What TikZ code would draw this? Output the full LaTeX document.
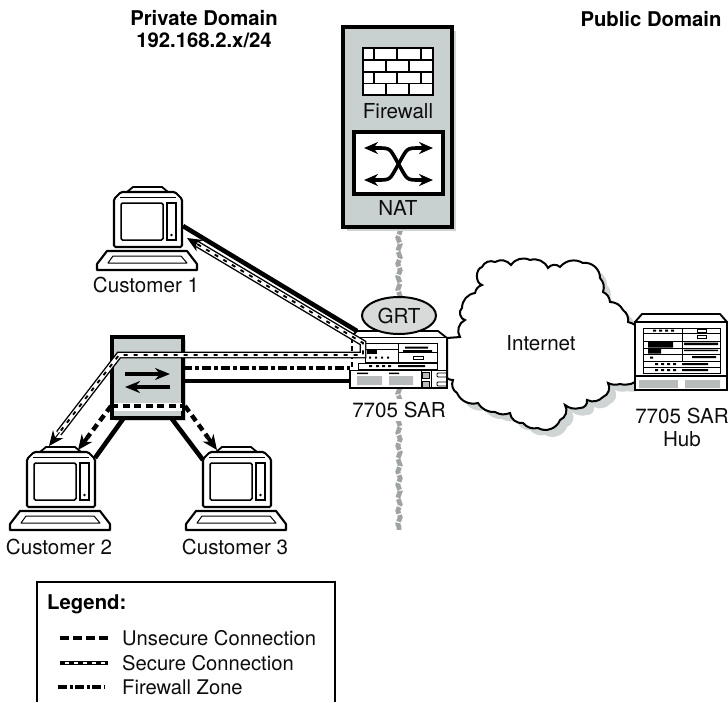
\documentclass[tikz,border=0pt]{standalone}
\usepackage{fontspec}
\setmainfont{TeX Gyre Heros}
\usetikzlibrary{arrows.meta,decorations.pathmorphing,calc,shapes.geometric}
\definecolor{panelgray}{HTML}{C9D0D0}
\definecolor{shadowgray}{HTML}{CFD4D4}
\definecolor{wiregray}{HTML}{A0A3A3}
\definecolor{grtgray}{HTML}{D8D9D9}
\newcommand{\securepath}[2][]{%
  \draw[line width=6.8pt,black,line join=miter,#1] #2;
  \draw[line width=4pt,white,line join=miter] #2;
  \draw[line width=1.9pt,black,dash pattern=on 4pt off 6pt] #2;}
\tikzset{
  lbl/.style={font=\fontsize{20.6}{23}\selectfont,inner sep=0pt,text=black!95},
  leg/.style={font=\fontsize{20.2}{23}\selectfont,inner sep=0pt,text=black!95,anchor=west},
  head/.style={font=\fontsize{20.3}{22}\selectfont\bfseries,inner sep=0pt,align=center},
  thick link/.style={line width=4.6pt,black},
  unsecure/.style={line width=4.4pt,black,dash pattern=on 7pt off 4.5pt},
  zone/.style={line width=4pt,black,dash pattern=on 9pt off 3pt on 4pt off 3pt},
  bighead/.style={-{Stealth[length=15pt,width=13pt]}},
  computer/.pic={
    % origin: centre of case top, at the top of the stand
    \draw[line width=1.8pt,fill=white] (-21,5) -- (-15,0) -- (14,0) -- (20,5) -- cycle;
    \draw[line width=2.1pt,fill=white,rounded corners=1.5pt]
      (-34,12) -- (-27,5) -- (27,5) -- (34,12) -- (34,60) -- (-34,60) -- cycle;
    \draw[line width=1pt] (-28,10) -- (28,10);
    \draw[line width=1.5pt,rounded corners=1.5pt] (-27,16) rectangle (15,53);
    \draw[line width=1.5pt] (19,16) rectangle (28,53);
    \fill (23.5,48) circle (1.4);
    \draw[line width=2.1pt,fill=white,line join=round]
      (-41,64) -- (39,64) -- (49,77) -- (49,83) -- (-51,83) -- (-51,77) -- cycle;
    \draw[line width=1pt,line join=round] (-35,69) -- (33,69) -- (39,76) -- (-40,76) -- cycle;
  }
}
\begin{document}
\begin{tikzpicture}[x=1pt,y=-1pt]
\useasboundingbox (0,0) rectangle (728,702);

% Titles
\node[head] (tpriv) at (204,29) {Private Domain\\192.168.2.x/24};
\node[head] (tpub) at (651,19) {Public Domain};

% Wire of the domain border
\coordinate (wireA) at (399,228);
\coordinate (wireB) at (399,530);
\draw[line width=4.8pt,wiregray,dash pattern=on 7pt off 1.5pt,
  decorate,decoration={zigzag,segment length=13pt,amplitude=1.2pt}] (wireA) -- (wireB);

% Firewall / NAT box
\fill[shadowgray] (347,31) rectangle (456,231);
\node[draw,line width=3.2pt,fill=panelgray,minimum width=109pt,minimum height=200pt,inner sep=0pt] (fwbox) at (397.5,127) {};
\draw[line width=2.8pt,fill=white] (363,48) rectangle (433,95);
\draw[line width=1.3pt]
  (363,60) -- (433,60) (363,72) -- (433,72) (363,83.5) -- (433,83.5)
  (374,48) -- (374,60) (397,48) -- (397,60) (421,48) -- (421,60)
  (386,60) -- (386,72) (409,60) -- (409,72)
  (374,72) -- (374,83.5) (397,72) -- (397,83.5) (421,72) -- (421,83.5)
  (386,83.5) -- (386,95) (409,83.5) -- (409,95);
\node[lbl] (lfw) at (398,111) {Firewall};
\node[draw,line width=3.4pt,fill=white,minimum width=89pt,minimum height=62pt,inner sep=0pt] (natbox) at (398.5,163) {};
\coordinate (natA) at (364,148); \coordinate (natB) at (433,180);
\coordinate (natC) at (364,180); \coordinate (natD) at (433,148);
\draw[line width=3.6pt,{Stealth[length=14pt,width=12pt]}-{Stealth[length=14pt,width=12pt]}]
  (natA) -- +(13,0) .. controls +(14,0) and +(-9,-16) .. (398.5,164) .. controls +(9,16) and +(-14,0) .. (420,180) -- (natB);
\draw[line width=3.6pt,{Stealth[length=14pt,width=12pt]}-{Stealth[length=14pt,width=12pt]}]
  (natC) -- +(13,0) .. controls +(14,0) and +(-9,16) .. (398.5,164) .. controls +(9,-16) and +(-14,0) .. (420,148) -- (natD);
\node[lbl] (lnat) at (398,208) {NAT};

% Cloud
\def\cloudpath{(447,338) -- (460,337) to[bend left=50] (465,320) to[bend left=70] (462,308)
  to[bend left=40] (475,293) to[bend left=30] (482,285) to[bend left=75] (482,267)
  to[bend left=45] (495,262) to[bend left=40] (511,265) to[bend left=40] (530,260)
  to[bend left=40] (548,268) to[bend left=50] (560,267) to[bend left=40] (583,263)
  to[bend left=50] (600,278) to[bend left=30] (603,292) to[bend left=30] (610,302)
  to[bend left=30] (623,310) to[bend left=30] (628,322) to[bend left=20] (640,330)
  -- (640,378) to[bend left=30] (620,384) to[bend left=20] (608,383)
  to[bend left=50] (603,397) to[bend left=35] (587,400) to[bend left=55] (580,408)
  to[bend left=25] (565,405) to[bend left=50] (560,420) to[bend left=50] (538,428)
  to[bend left=30] (523,423) to[bend left=45] (510,413) to[bend left=25] (495,412)
  to[bend left=30] (478,403) to[bend left=40] (457,393) to[bend left=40] (453,380)
  to[bend left=20] (447,378) -- cycle}
\begin{scope}[shift={(7,7)}]
  \fill[shadowgray] \cloudpath;
\end{scope}
\draw[line width=2pt,fill=white] \cloudpath;
\node[lbl] (lnet) at (541,343) {Internet};

% Hub
\draw[line width=1.9pt,fill=white,line join=round] (635,322) -- (642,314) -- (720,314) -- (727,322) -- cycle;
\node[draw,line width=1.9pt,fill=white,minimum width=92pt,minimum height=54pt,inner sep=0pt] (hubbody) at (681,349) {};
\draw[line width=1.9pt,fill=white] (635,376) rectangle (727,390);
\fill[shadowgray!70!gray] (639,380) rectangle (678,388) (685,380) rectangle (720,388);
\draw[line width=0.9pt]
  (643,328) rectangle (720,373) (682,328) -- (682,361)
  (643,333) -- (720,333) (643,341) -- (720,341) (643,348) -- (720,348)
  (643,354) -- (720,354) (643,361) -- (720,361) (643,367) -- (720,367);
\fill (648,341.5) rectangle (660,347.5) (660,341.5) rectangle (673,347.5)
      (648,348) rectangle (661,353.5) (650,356.5) rectangle (653,358.5);
\fill (684,342.5) rectangle (718,345) (684,349.5) rectangle (718,351)
      (692,356) rectangle (716,358) (682,363) rectangle (708,365) (682,369) rectangle (708,371)
      (653,329.5) rectangle (656,331.5) (659,329.5) rectangle (662,331.5) (665,329.5) rectangle (668,331.5) (671,329.5) rectangle (674,331.5)
      (655,363) rectangle (658,365) (661,363) rectangle (664,365) (667,363) rectangle (670,365) (673,363) rectangle (676,365)
      (655,369) rectangle (658,371) (661,369) rectangle (664,371) (667,369) rectangle (670,371) (673,369) rectangle (676,371);
\draw[line width=0.7pt] (697,329) rectangle (706,332) (697,335.5) rectangle (706,338.5);
\node[lbl,align=center] (lhub) at (682,427) {7705 SAR\\Hub};

% Customers
\pic at (61,447) {computer};
\pic at (237,447) {computer};
\pic at (148,187) {computer};
\node[lbl] (c1) at (146,285) {Customer 1};
\node[lbl] (c2) at (59,547) {Customer 2};
\node[lbl] (c3) at (235,547) {Customer 3};

% Switch
\fill[shadowgray] (115,340) rectangle (186,421);
\node[draw,line width=3.4pt,fill=panelgray,minimum width=71pt,minimum height=81pt,inner sep=0pt] (sw) at (147.5,377.5) {};
\coordinate (swa) at (125,374); \coordinate (swb) at (170,374);
\coordinate (swc) at (170,387); \coordinate (swd) at (125,387);
\draw[line width=3.2pt,-{Stealth[length=15pt,width=12pt]}] (swa) -- (swb);
\draw[line width=3.2pt,-{Stealth[length=15pt,width=12pt]}] (swc) -- (swd);

% Customer links (solid)
\coordinate (c1link) at (183,226); \coordinate (sarlid) at (357,331);
\coordinate (c2link) at (95,458); \coordinate (c3link) at (203,460);
\coordinate (swsl) at (123,419); \coordinate (swsr) at (172,419);
\coordinate (swe3) at (183,381); \coordinate (sarw3) at (350,381);
\coordinate (swe2) at (183,368); \coordinate (sarw2) at (350,368);
\draw[thick link] (c1link) -- (sarlid);
\draw[thick link] (swsl) -- (c2link);
\draw[thick link] (swsr) -- (c3link);
\draw[thick link] (swe3) -- (sarw3);
\draw[zone] (swe2) -- (sarw2);

% Unsecure
\coordinate (unL) at (111,406); \coordinate (unR) at (185,406);
\coordinate (tipc2) at (78,450); \coordinate (tipc3) at (217,450);
\draw[white,line width=8pt] ($(unL)+(3,1)$) -- ($(unR)+(-3,1)$);
\draw[unsecure] (unL) -- (unR);
\draw[unsecure] (unL) -- ($(unL)!0.72!(tipc2)$);
\draw[unsecure] (unR) -- ($(unR)!0.72!(tipc3)$);
\draw[line width=4pt,bighead] ($(unL)!0.72!(tipc2)$) -- (tipc2);
\draw[line width=4pt,bighead] ($(unR)!0.72!(tipc3)$) -- (tipc3);

% SAR device
\draw[line width=1.8pt,fill=white,line join=round] (357,331) -- (438,331) -- (447,338) -- (350,338) -- cycle;
\fill[white] (352,338) rectangle (447,370);
\draw[line width=1.8pt] (447,338) -- (447,370);
\draw[line width=1.8pt,dash pattern=on 5pt off 3pt] (352,338) -- (352,370);
\draw[line width=0.9pt] (365,343) rectangle (437,362) (398,343) -- (398,362)
  (365,349) -- (398,349) (398,352) -- (437,352);
\draw[line width=0.9pt] (358,363) rectangle (437,369);
\fill (367,349) rectangle (377,354);
\fill (369,356.5) rectangle (371,358.5) (375,356.5) rectangle (377,358.5) (381,356.5) rectangle (383,358.5) (387,356.5) rectangle (389,358.5)
      (405,346.5) rectangle (428,348.5) (403,350) rectangle (432,352)
      (369,365) rectangle (372,367) (376,365) rectangle (379,367) (382,365) rectangle (385,367) (388,365) rectangle (391,367)
      (398,365) rectangle (425,367);
\draw[line width=0.7pt] (413,356) rectangle (423,359);
\draw[line width=1.8pt,fill=white] (350,370.5) rectangle (447,388);
\fill[shadowgray!70!gray] (357,376) rectangle (382,385) (389,376) rectangle (413,385)
   (423,373) rectangle (429,378) (423,382) rectangle (429,387);
\fill (357,372.5) rectangle (368,374) (389,372.5) rectangle (399,374);
\draw[line width=0.8pt] (421,371) -- (421,388) (431,371) -- (431,388)
   (422,372) rectangle (429,378) (422,381) rectangle (429,387);
\draw[line width=0.8pt,rounded corners=1pt] (437,373) rectangle (447,377) (437,382) rectangle (447,386);

\node[draw,line width=2pt,fill=grtgray,ellipse,minimum width=74pt,minimum height=37pt,inner sep=0pt] (grt) at (399,315.5) {};
\node[lbl] at (grt) {GRT};
\node[lbl,fill=white,inner xsep=1pt,inner ysep=3pt] (lsar) at (399,410) {7705 SAR};

% Secure connection
\coordinate (tipc1) at (187,238); \coordinate (sarin) at (363,343);
\coordinate (sarcor) at (363,355); \coordinate (swbend) at (119,355);
\coordinate (tipc2s) at (49,446);
\securepath{($(tipc1)!0.06!(sarin)$) -- (sarin) -- (sarcor) -- (swbend) -- ($(swbend)!0.86!(tipc2s)$)}
\draw[line width=1pt,bighead] ($(tipc1)!0.07!(sarin)$) -- (tipc1);
\draw[line width=1pt,bighead] ($(swbend)!0.85!(tipc2s)$) -- (tipc2s);

% Legend
\coordinate (la) at (37,702); \coordinate (lb) at (37,582);
\coordinate (lc) at (335,582); \coordinate (ld) at (335,702);
\draw[line width=1.3pt] (la) -- (lb) -- (lc) -- (ld);
\node[lbl,font=\fontsize{20.3}{22}\selectfont\bfseries,anchor=west,text=black] (ltitle) at (47,604) {Legend:};
\coordinate (s1a) at (60,638); \coordinate (s1b) at (108,638);
\coordinate (s2a) at (60,663); \coordinate (s2b) at (108,663);
\coordinate (s3a) at (58,687); \coordinate (s3b) at (105,687);
\draw[line width=3.4pt,dash pattern=on 9pt off 4pt] (s1a) -- (s1b);
\draw[line width=4.4pt] (s2a) -- (s2b);
\draw[line width=2.2pt,white] (s2a) -- (s2b);
\draw[line width=1.2pt,dash pattern=on 5pt off 4pt] (s2a) -- (s2b);
\draw[line width=3.4pt,dash pattern=on 9pt off 2.5pt on 3pt off 2.5pt] (s3a) -- (s3b);
\node[leg] (l1) at (122,638) {Unsecure Connection};
\node[leg] (l2) at (122,663) {Secure Connection};
\node[leg] (l3) at (122,687) {Firewall Zone};
\end{tikzpicture}
\end{document}
